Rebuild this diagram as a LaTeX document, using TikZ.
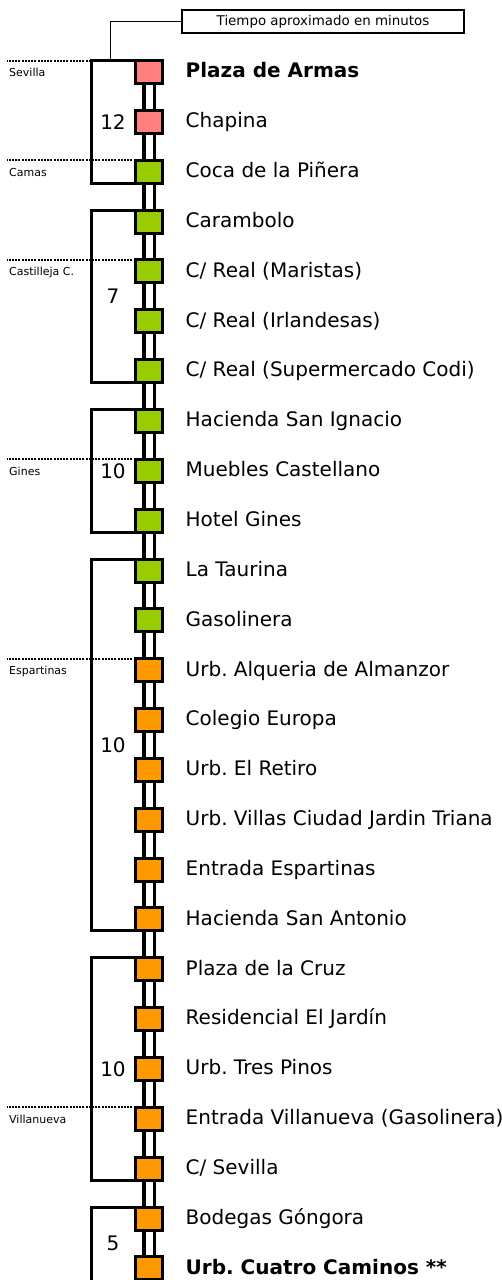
\documentclass[tikz,border=0pt]{standalone}
\usepackage{fontspec}
\setmainfont{DejaVu Sans}
\usetikzlibrary{positioning,calc,backgrounds}
\definecolor{sevcol}{HTML}{FF8080}
\definecolor{aljcol}{HTML}{99CC00}
\definecolor{espcol}{HTML}{FF9900}
\tikzset{stop/.style={rectangle,draw,line width=3pt,minimum width=27pt,minimum height=23pt,inner sep=0pt,outer sep=0pt},
         stop name/.style={right=23pt of #1,inner sep=0pt,text height=14.6pt,text depth=3pt,font=\fontsize{20}{24}\selectfont},
         bold name/.style={stop name=#1,font=\fontsize{20}{24}\selectfont\bfseries},
         bracket/.style={line width=3pt,line join=miter},
         rail/.style={line width=3.5pt,double=white,double distance=7pt},
         townline/.style={line width=2pt,dash pattern=on 2pt off 1.2pt},
         town/.style={inner sep=0pt,font=\fontsize{11}{13}\selectfont},
         mins/.style={inner sep=0pt,font=\fontsize{20}{24}\selectfont},
         note/.style={rectangle,draw,line width=2pt,minimum width=282pt,minimum height=23pt,inner sep=0pt,font=\fontsize{13.4}{16}\selectfont},
         callout/.style={line width=1pt}
}
\frenchspacing
\begin{document}
\begin{tikzpicture}[x=1pt,y=-1pt,node distance=26.85pt]
\useasboundingbox (0,0) rectangle (502,1280);
\clip (0,0) rectangle (502,1280);
% \draw[help lines,step=50] (0,0) grid (502,1280);
\coordinate (brk) at (91,0);
\coordinate (tl) at (7,0);
\coordinate (cl) at (110,60);

\node[stop,fill=sevcol] (s1) at (149,72) {};
\node[stop,fill=sevcol,below=of s1] (s2) {};
\node[stop,fill=aljcol,below=of s2] (s3) {};
\node[stop,fill=aljcol,below=of s3] (s4) {};
\node[stop,fill=aljcol,below=of s4] (s5) {};
\node[stop,fill=aljcol,below=of s5] (s6) {};
\node[stop,fill=aljcol,below=of s6] (s7) {};
\node[stop,fill=aljcol,below=of s7] (s8) {};
\node[stop,fill=aljcol,below=of s8] (s9) {};
\node[stop,fill=aljcol,below=of s9] (s10) {};
\node[stop,fill=aljcol,below=of s10] (s11) {};
\node[stop,fill=aljcol,below=of s11] (s12) {};
\node[stop,fill=espcol,below=of s12] (s13) {};
\node[stop,fill=espcol,below=of s13] (s14) {};
\node[stop,fill=espcol,below=of s14] (s15) {};
\node[stop,fill=espcol,below=of s15] (s16) {};
\node[stop,fill=espcol,below=of s16] (s17) {};
\node[stop,fill=espcol,below=of s17] (s18) {};
\node[stop,fill=espcol,below=of s18] (s19) {};
\node[stop,fill=espcol,below=of s19] (s20) {};
\node[stop,fill=espcol,below=of s20] (s21) {};
\node[stop,fill=espcol,below=of s21] (s22) {};
\node[stop,fill=espcol,below=of s22] (s23) {};
\node[stop,fill=espcol,below=of s23] (s24) {};
\node[stop,fill=espcol,below=of s24] (s25) {};

\begin{scope}[on background layer]
\draw[rail] (s1) -- (s25);
\end{scope}

\node[bold name=s1] (n1) {Plaza de Armas};
\node[stop name=s2] (n2) {Chapina};
\node[stop name=s3] (n3) {Coca de la Piñera};
\node[stop name=s4] (n4) {Carambolo};
\node[stop name=s5] (n5) {C/ Real (Maristas)};
\node[stop name=s6] (n6) {C/ Real (Irlandesas)};
\node[stop name=s7] (n7) {C/ Real (Supermercado Codi)};
\node[stop name=s8] (n8) {Hacienda San Ignacio};
\node[stop name=s9] (n9) {Muebles Castellano};
\node[stop name=s10] (n10) {Hotel Gines};
\node[stop name=s11] (n11) {La Taurina};
\node[stop name=s12] (n12) {Gasolinera};
\node[stop name=s13] (n13) {Urb. Alqueria de Almanzor};
\node[stop name=s14] (n14) {Colegio Europa};
\node[stop name=s15] (n15) {Urb. El Retiro};
\node[stop name=s16] (n16) {Urb. Villas Ciudad Jardin Triana};
\node[stop name=s17] (n17) {Entrada Espartinas};
\node[stop name=s18] (n18) {Hacienda San Antonio};
\node[stop name=s19] (n19) {Plaza de la Cruz};
\node[stop name=s20] (n20) {Residencial El Jardín};
\node[stop name=s21] (n21) {Urb. Tres Pinos};
\node[stop name=s22] (n22) {Entrada Villanueva (Gasolinera)};
\node[stop name=s23] (n23) {C/ Sevilla};
\node[stop name=s24] (n24) {Bodegas Góngora};
\node[bold name=s25] (n25) {Urb. Cuatro Caminos **};

% municipios
\draw[townline] (s1.north west) -- (s1.north west -| tl) coordinate (t1);
\draw[townline] (s3.north west) -- (s3.north west -| tl) coordinate (t2);
\draw[townline] (s5.north west) -- (s5.north west -| tl) coordinate (t3);
\draw[townline] (s9.north west) -- (s9.north west -| tl) coordinate (t4);
\draw[townline] (s13.north west) -- (s13.north west -| tl) coordinate (t5);
\draw[townline] (s22.north west) -- (s22.north west -| tl) coordinate (t6);
\node[town,below right=7.5pt and 2pt of t1] (m1) {Sevilla};
\node[town,below right=7.5pt and 2pt of t2] (m2) {Camas};
\node[town,below right=7.5pt and 2pt of t3] (m3) {Castilleja C.};
\node[town,below right=7.5pt and 2pt of t4] (m4) {Gines};
\node[town,below right=7.5pt and 2pt of t5] (m5) {Espartinas};
\node[town,below right=7.5pt and 2pt of t6] (m6) {Villanueva};

% tramos
\draw[bracket] (s1.north west) -- (s1.north west -| brk) -- (s3.south west -| brk) -- (s3.south west);
\draw[bracket] (s4.north west) -- (s4.north west -| brk) -- (s7.south west -| brk) -- (s7.south west);
\draw[bracket] (s8.north west) -- (s8.north west -| brk) -- (s10.south west -| brk) -- (s10.south west);
\draw[bracket] (s11.north west) -- (s11.north west -| brk) -- (s18.south west -| brk) -- (s18.south west);
\draw[bracket] (s19.north west) -- (s19.north west -| brk) -- (s23.south west -| brk) -- (s23.south west);
\draw[bracket] (s24.north west) -- (s24.north west -| brk) -- ([yshift=-6pt]s25.south west -| brk) -- ([yshift=-6pt]s25.south west);
\node[mins] (d1) at ($(s1)!.5!(s3)+(-36,0)$) {12};
\node[mins] (d2) at ($(s4)!.5!(s7)+(-36,0)$) {7};
\node[mins] (d3) at ($(s8)!.5!(s10)+(-36,0)$) {10};
\node[mins] (d4) at ($(s11)!.5!(s18)+(-36,0)$) {10};
\node[mins] (d5) at ($(s19)!.5!(s23)+(-36,0)$) {10};
\node[mins] (d6) at ($(s24)!.5!(s25)+(-36,0)$) {5};

\node[note] (tiempo) at (323,21.5) {Tiempo aproximado en minutos};
\draw[callout] (tiempo.west) -| (cl);
\end{tikzpicture}
\end{document}
